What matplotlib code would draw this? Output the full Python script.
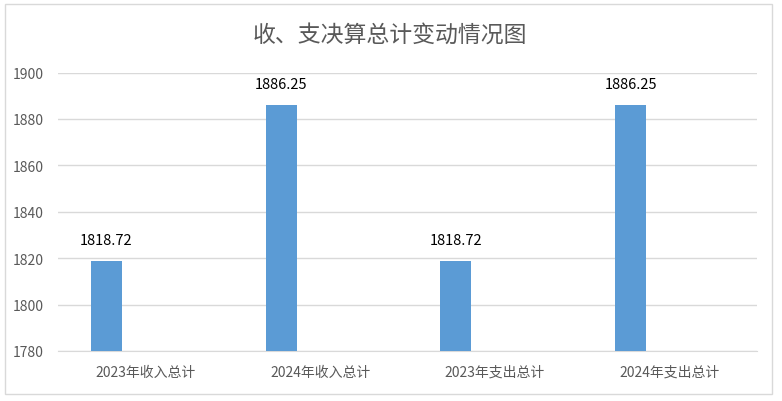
import matplotlib
matplotlib.use("Agg")
import matplotlib.pyplot as plt
import numpy as np
from matplotlib.patches import Rectangle

plt.rcParams['font.family'] = ['Noto Sans CJK SC', 'DejaVu Sans']

categories = ["2023年收入总计", "2024年收入总计", "2023年支出总计", "2024年支出总计"]
values = [1818.72, 1886.25, 1818.72, 1886.25]
yticks = [1780, 1800, 1820, 1840, 1860, 1880, 1900]
title = "收、支决算总计变动情况图"

fig = plt.figure(figsize=(7.82, 4.02), dpi=100)
ax = fig.add_axes([58/782, 1-352/402, (757-58)/782, (352-73.6)/402])

x = np.arange(len(categories))
offset = -0.223
width = 0.177
bars = ax.bar(x + offset, values, width=width, color="#5B9BD5", zorder=3)
for xi, v in zip(x, values):
    ax.annotate(f"{v:.2f}", (xi + offset, v), xytext=(0, 10), textcoords="offset points",
                ha="center", va="bottom", fontsize=10.5, color="black")

ax.set_xlim(-0.5, len(categories) - 0.5)
ax.set_ylim(1780, 1900)
ax.set_yticks(yticks)
ax.set_xticks(x)
ax.set_xticklabels(categories)
ax.grid(axis="y", color="#D9D9D9", linewidth=1, zorder=0)
for s in ["top", "right", "left"]:
    ax.spines[s].set_visible(False)
ax.spines["bottom"].set_color("#D9D9D9")
ax.tick_params(axis="both", length=0, colors="#595959", labelsize=10)
ax.tick_params(axis="x", pad=10)
ax.tick_params(axis="y", pad=10)

fig.text(390/782, 1-35/402, title, ha="center", va="center", fontsize=16.5, color="#595959")
fig.patches.append(Rectangle((5/782, 1-395/402), (772-5)/782, (395-5)/402,
                             transform=fig.transFigure, fill=False, edgecolor="#D9D9D9", linewidth=1))

fig.savefig("out.png", dpi=100)
